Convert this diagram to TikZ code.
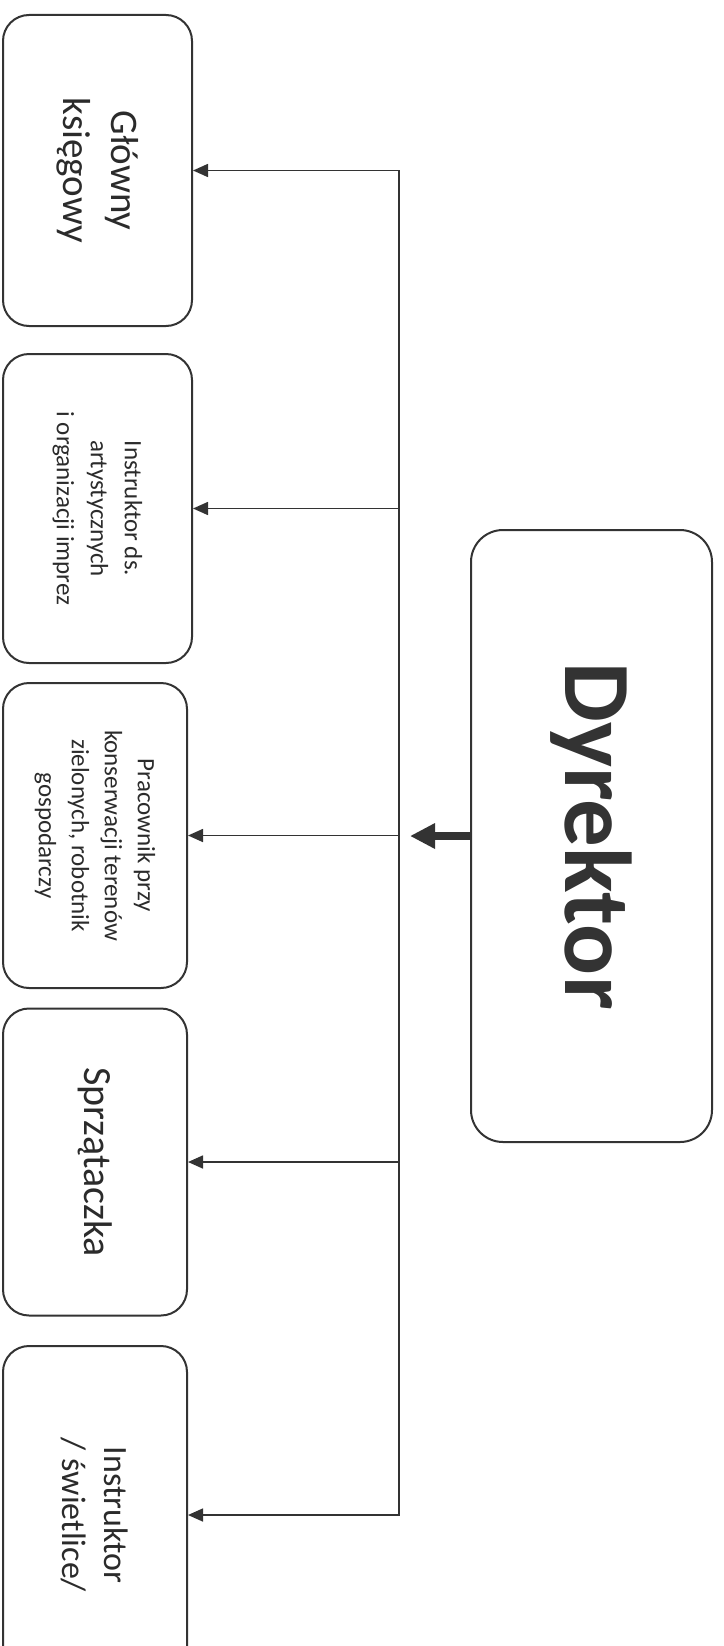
\documentclass[tikz,border=0pt]{standalone}
\usepackage{fontspec}
\setmainfont{Carlito}
\usetikzlibrary{arrows.meta, positioning}
\definecolor{linegray}{HTML}{333333}
\definecolor{textgray}{HTML}{2B2B2B}

\begin{document}
\begin{tikzpicture}[x=1pt, y=-1pt,
  post/.style={draw=linegray, line width=2pt, rounded corners=26pt, rotate=-90,
    align=center, inner sep=0pt, text=textgray},
  wire/.style={draw=linegray, line width=1.6pt, line cap=rect},
  link/.style={draw=linegray, line width=1.6pt, -{Triangle[length=15pt, width=13pt]}},
  lead/.style={draw=linegray, line width=8pt, -{Triangle[length=25pt, width=24pt]}}]
  \useasboundingbox (0,0) rectangle (723,1646);
  % staff boxes, text reads top to bottom
  \node[post, minimum width=311pt, minimum height=189pt, font=\fontsize{39}{48}\selectfont]
    (glowny) at (97.5,170.5) {Główny\\księgowy};
  \node[post, minimum width=309pt, minimum height=189pt, font=\fontsize{25}{34}\selectfont]
    (instruktor) at (97.5,508.5) {Instruktor ds.\\artystycznych\\i organizacji imprez};
  \node[post, minimum width=305pt, minimum height=184pt, font=\fontsize{25}{33}\selectfont]
    (pracownik) at (95,835.5) {Pracownik przy\\konserwacji terenów\\zielonych, robotnik\\gospodarczy};
  \node[post, minimum width=307pt, minimum height=184pt, font=\fontsize{40}{48}\selectfont]
    (sprzataczka) at (95,1162) {Sprzątaczka};
  \node[post, minimum width=338pt, minimum height=184pt, font=\fontsize{34}{42}\selectfont]
    (swietlica) at (95,1515) {Instruktor\\/ świetlice/};
  % head
  \node[post, minimum width=612pt, minimum height=241pt, rounded corners=32pt,
    font=\bfseries\fontsize{95}{110}\selectfont, text=linegray]
    (dyrektor) at (591.5,836) {Dyrektor};
  \coordinate (bus) at (399,0);
  \coordinate (tip) at (410,836);
  \draw[wire] (bus |- glowny.north) -- (bus |- swietlica.north);
  \foreach \n in {glowny, instruktor, pracownik, sprzataczka, swietlica}
    \draw[link] (bus |- \n.north) -- (\n.north);
  \draw[lead] (dyrektor.south) -- (tip);
\end{tikzpicture}
\end{document}
